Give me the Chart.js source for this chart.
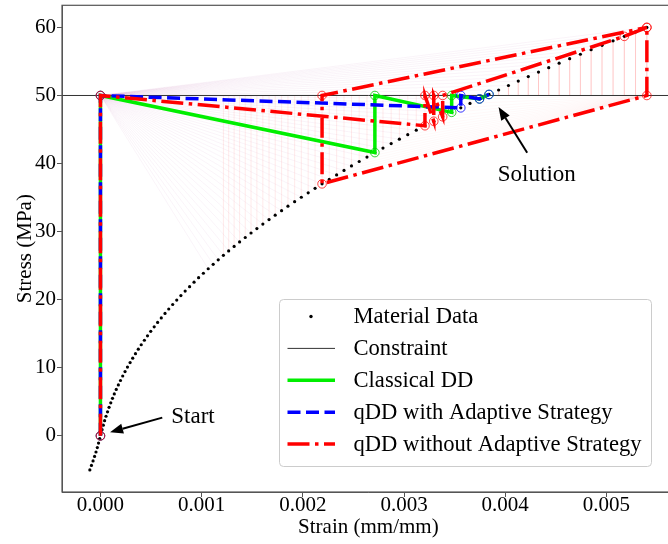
<!DOCTYPE html>
<html lang="en">
<head>
<meta charset="UTF-8">
<title>Data-driven iterations</title>
<style>
  body { margin: 0; overflow: hidden; background: #fff; }
  .container { width: 680px; height: 544px; }
</style>
</head>
<body>
<div class="container"><canvas id="myChart"></canvas></div>
<script src="https://cdn.jsdelivr.net/npm/chart.js"></script>
<script>
// material data (strain, stress)
const strain = [
  -0.000105, -0.000089, -0.000073, -0.000058, -0.000044, -0.000031, -0.000019, -0.000007, 0.000004, 0.000016,
  0.000028, 0.000041, 0.000055, 0.000070, 0.000085, 0.000102, 0.000119, 0.000137, 0.000156, 0.000177,
  0.000198, 0.000220, 0.000243, 0.000267, 0.000293, 0.000319, 0.000346, 0.000374, 0.000403, 0.000434,
  0.000465, 0.000497, 0.000531, 0.000565, 0.000601, 0.000638, 0.000675, 0.000714, 0.000754, 0.000795,
  0.000837, 0.000881, 0.000925, 0.000970, 0.001017, 0.001065, 0.001114, 0.001164, 0.001215, 0.001267,
  0.001321, 0.001375, 0.001431, 0.001488, 0.001546, 0.001605, 0.001666, 0.001727, 0.001790, 0.001853,
  0.001919, 0.001985, 0.002053, 0.002121, 0.002190, 0.002261, 0.002334, 0.002407, 0.002481, 0.002557,
  0.002634, 0.002712, 0.002792, 0.002873, 0.002954, 0.003037, 0.003121, 0.003207, 0.003294, 0.003382,
  0.003471, 0.003561, 0.003652, 0.003746, 0.003840, 0.003935, 0.004032, 0.004129, 0.004228, 0.004329,
  0.004430, 0.004533, 0.004637, 0.004743, 0.004849, 0.004957, 0.005066, 0.005177, 0.005288, 0.005400
];
const stress = [
  -5.000, -4.343, -3.687, -3.030, -2.374, -1.717, -1.061, -0.404, 0.253, 0.909,
  1.566, 2.222, 2.879, 3.535, 4.192, 4.848, 5.505, 6.162, 6.818, 7.475,
  8.131, 8.788, 9.444, 10.101, 10.758, 11.414, 12.071, 12.727, 13.384, 14.040,
  14.697, 15.354, 16.010, 16.667, 17.323, 17.980, 18.636, 19.293, 19.949, 20.606,
  21.263, 21.919, 22.576, 23.232, 23.889, 24.545, 25.202, 25.859, 26.515, 27.172,
  27.828, 28.485, 29.141, 29.798, 30.455, 31.111, 31.768, 32.424, 33.081, 33.737,
  34.394, 35.051, 35.707, 36.364, 37.020, 37.677, 38.333, 38.990, 39.646, 40.303,
  40.960, 41.616, 42.273, 42.929, 43.586, 44.242, 44.899, 45.556, 46.212, 46.869,
  47.525, 48.182, 48.838, 49.495, 50.152, 50.808, 51.465, 52.121, 52.778, 53.434,
  54.091, 54.747, 55.404, 56.061, 56.717, 57.374, 58.030, 58.687, 59.343, 60.000
];

// iteration paths
const classicalStrain = [0, 0, 0.002712, 0.002712, 0.003471, 0.003471, 0.003746, 0.003840];
const classicalStress = [0, 50, 41.616, 50, 47.525, 50, 49.495, 50.152];
const adaptiveStrain = [0, 0, 0.003561, 0.003561, 0.003746, 0.003840];
const adaptiveStress = [0, 50, 48.182, 50, 49.495, 50.152];
const fixedStrain = [0, 0, 0.003207, 0.003207, 0.003294, 0.003294, 0.003382, 0.003382, 0.005177, 0.0054, 0.0054, 0.00219, 0.00219, 0.0054];
const fixedStress = [0, 50, 45.556, 50, 46.212, 50, 46.869, 50, 58.687, 60, 50, 37.020, 50, 60];

const constraintStress = 50;
const xLimits = [-0.00038, 0.005675];
const yLimits = [-8.25, 63.25];
const xTicks = [0, 0.001, 0.002, 0.003, 0.004, 0.005];
const yTicks = [0, 10, 20, 30, 40, 50, 60];

const legendLabels = ['Material Data', 'Constraint', 'Classical DD', 'qDD with Adaptive Strategy', 'qDD without Adaptive Strategy'];

// annotations: [text, text x, text y, arrow tail x, tail y, tip x, tip y] in data units
const notes = [
  ['Start', 0.00070, 2.8, 0.000611, 2.68, 0.000095, 0.54],
  ['Solution', 0.003927, 38.3, 0.004217, 41.6, 0.003934, 48.3]
];

const serif = "'Liberation Serif', 'Times New Roman', serif";
Chart.defaults.font.family = serif;
Chart.defaults.font.size = 21;
Chart.defaults.color = '#000';

const pts = (xs, ys) => xs.map((x, i) => ({x: x, y: ys[i]}));

// faint trial lines from (0, 50) to the material points, plus vertical probes
const fanBlue = [], fanRed = [], probes = [];
const last = strain.length - 1;
strain.forEach((x, i) => {
  if (x < 0.00105) return;
  fanBlue.push({x: 0, y: constraintStress}, {x: x, y: stress[i]}, {x: x, y: null});
  fanRed.push({x: 0, y: constraintStress}, {x: x, y: stress[i]}, {x: x, y: null});
  if (x > 0.0022 && stress[i] < constraintStress) {
    fanRed.push({x: strain[last], y: constraintStress}, {x: x, y: stress[i]}, {x: x, y: null});
  }
  if (x > 0.0012) probes.push({x: x, y: stress[i]}, {x: x, y: constraintStress}, {x: x, y: null});
});

const GREEN = '#00ee00', BLUE = '#0000ff', RED = '#ff0000';

const data = {
  datasets: [
    { label: 'fanBlue', data: fanBlue, showLine: true, spanGaps: false, borderColor: 'rgba(80,80,255,0.03)', borderWidth: 1, pointRadius: 0, order: 20 },
    { label: 'fanRed', data: fanRed, showLine: true, spanGaps: false, borderColor: 'rgba(255,80,80,0.035)', borderWidth: 1, pointRadius: 0, order: 19 },
    { label: 'probes', data: probes, showLine: true, spanGaps: false, borderColor: 'rgba(255,90,90,0.13)', borderWidth: 1, pointRadius: 0, order: 18 },
    { label: legendLabels[0], data: pts(strain, stress), showLine: false, pointRadius: 1.6, pointBorderWidth: 0, pointBackgroundColor: '#000', order: 10 },
    { label: legendLabels[1], data: pts(xLimits, [constraintStress, constraintStress]), showLine: true, borderColor: '#333', borderWidth: 1, pointRadius: 0, order: 9 },
    { label: legendLabels[2], data: pts(classicalStrain, classicalStress), showLine: true, borderColor: GREEN, borderWidth: 3.5,
      pointRadius: 4.3, pointBorderWidth: 1, pointBorderColor: 'rgba(0,200,0,0.8)', pointBackgroundColor: 'rgba(0,0,0,0)', order: 3 },
    { label: legendLabels[3], data: pts(adaptiveStrain, adaptiveStress), showLine: true, borderColor: BLUE, borderWidth: 3.5, borderDash: [13, 5.5],
      pointRadius: 4.3, pointBorderWidth: 1, pointBorderColor: 'rgba(0,0,255,0.8)', pointBackgroundColor: 'rgba(0,0,0,0)', order: 2 },
    { label: legendLabels[4], data: pts(fixedStrain, fixedStress), showLine: true, borderColor: RED, borderWidth: 3.5, borderDash: [22, 5.5, 3.5, 5.5],
      pointRadius: 4.3, pointBorderWidth: 1, pointBorderColor: 'rgba(255,0,0,0.75)', pointBackgroundColor: 'rgba(0,0,0,0)', order: 1 }
  ]
};

function drawArrow(ctx, x1, y1, x2, y2) {
  const a = Math.atan2(y2 - y1, x2 - x1), hl = 13, hw = 5;
  const bx = x2 - hl * Math.cos(a), by = y2 - hl * Math.sin(a);
  ctx.strokeStyle = '#000'; ctx.fillStyle = '#000'; ctx.lineWidth = 2;
  ctx.beginPath(); ctx.moveTo(x1, y1); ctx.lineTo(bx, by); ctx.stroke();
  ctx.beginPath();
  ctx.moveTo(x2, y2);
  ctx.lineTo(bx + hw * Math.sin(a), by - hw * Math.cos(a));
  ctx.lineTo(bx - hw * Math.sin(a), by + hw * Math.cos(a));
  ctx.closePath(); ctx.fill();
}

const decor = {
  id: 'decor',
  afterDatasetsDraw(chart) {
    const {ctx, chartArea: a, scales: {x, y}} = chart;
    ctx.save();
    // frame
    ctx.strokeStyle = '#555'; ctx.lineWidth = 1.2;
    ctx.strokeRect(a.left, a.top, a.right - a.left, a.bottom - a.top);
    // annotations
    ctx.font = '23px ' + serif;
    ctx.textBaseline = 'middle'; ctx.textAlign = 'left'; ctx.fillStyle = '#000';
    notes.forEach(n => {
      ctx.fillText(n[0], x.getPixelForValue(n[1]), y.getPixelForValue(n[2]));
      drawArrow(ctx, x.getPixelForValue(n[3]), y.getPixelForValue(n[4]), x.getPixelForValue(n[5]), y.getPixelForValue(n[6]));
    });
    ctx.restore();
  },
  afterDraw(chart) {
    const ctx = chart.ctx;
    const bx = 279.5, by = 299.5, bw = 372, bh = 167;
    ctx.save();
    ctx.fillStyle = 'rgba(255,255,255,0.85)';
    ctx.strokeStyle = '#cccccc'; ctx.lineWidth = 1;
    ctx.beginPath(); ctx.roundRect(bx, by, bw, bh, 4); ctx.fill(); ctx.stroke();
    ctx.font = '22.6px ' + serif; ctx.textBaseline = 'middle'; ctx.textAlign = 'left';
    const sets = chart.data.datasets.slice(3);
    sets.forEach((ds, i) => {
      const cy = 316.5 + i * 31.9;
      if (i === 0) {
        ctx.fillStyle = '#000';
        ctx.beginPath(); ctx.arc(311, cy, 1.7, 0, Math.PI * 2); ctx.fill();
      } else {
        ctx.strokeStyle = ds.borderColor; ctx.lineWidth = ds.borderWidth;
        ctx.setLineDash(ds.borderDash || []);
        ctx.beginPath(); ctx.moveTo(287.5, cy); ctx.lineTo(335, cy); ctx.stroke();
        ctx.setLineDash([]);
      }
      ctx.fillStyle = '#000';
      ctx.fillText(ds.label, 353.5, cy + 1);
    });
    ctx.restore();
  }
};

const config = {
  type: 'scatter',
  data: data,
  options: {
    responsive: true,
    maintainAspectRatio: false,
    animation: false,
    devicePixelRatio: 1,
    layout: { padding: { top: 5, right: 4, left: 0, bottom: 0 } },
    plugins: { legend: { display: false }, tooltip: { enabled: false } },
    scales: {
      x: {
        type: 'linear', min: xLimits[0], max: xLimits[1],
        afterBuildTicks: s => { s.ticks = xTicks.map(v => ({value: v})); },
        afterFit: s => { s.height = 52; s.paddingLeft = 0; s.paddingRight = 0; },
        ticks: { callback: v => v.toFixed(3), padding: -4, maxRotation: 0, autoSkip: false },
        grid: { drawOnChartArea: false, tickLength: 5, tickColor: '#555' },
        border: { color: '#555' },
        title: { display: true, text: 'Strain (mm/mm)', padding: { top: 0, bottom: 4 } }
      },
      y: {
        type: 'linear', min: yLimits[0], max: yLimits[1],
        afterBuildTicks: s => { s.ticks = yTicks.map(v => ({value: v})); },
        afterFit: s => { s.width = 62; s.paddingTop = 0; s.paddingBottom = 0; },
        ticks: { padding: 1 },
        grid: { drawOnChartArea: false, tickLength: 5, tickColor: '#555' },
        border: { color: '#555' },
        title: { display: true, text: 'Stress (MPa)', padding: { top: 13, bottom: 0 } }
      }
    }
  },
  plugins: [decor]
};

const myChart = new Chart(document.getElementById('myChart').getContext('2d'), config);
</script>
</body>
</html>
